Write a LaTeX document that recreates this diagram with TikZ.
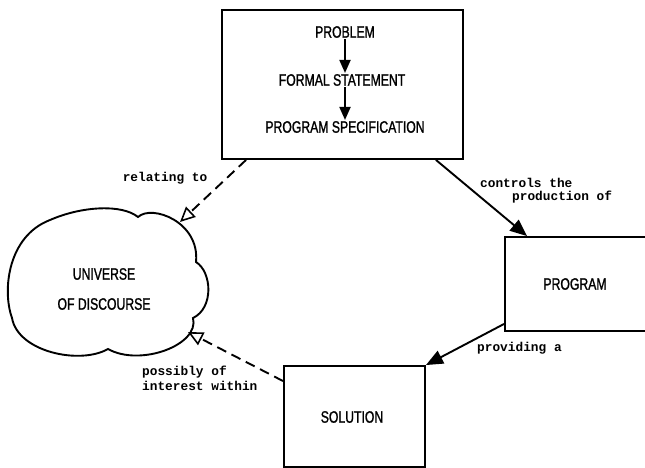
\documentclass[tikz,border=0pt]{standalone}
\usepackage{fontspec}
\usetikzlibrary{arrows.meta,calc}
\newfontfamily\condfont[FakeStretch=0.74,FakeBold=1.2]{Liberation Sans}
\newfontfamily\monofont{Liberation Mono}
\begin{document}
\begin{tikzpicture}[x=1pt,y=-1pt,
  boxstyle/.style={draw,line width=1.9pt,inner sep=0pt},
  captxt/.style={font=\condfont\fontsize{16.5}{30}\selectfont,inner sep=1pt},
  lbl/.style={font=\monofont\bfseries\fontsize{12.8}{14}\selectfont,inner sep=0pt},
  solidarrow/.style={line width=1.9pt,-{Triangle[length=17pt,width=14pt]}},
  smallarrow/.style={line width=1.9pt,-{Triangle[length=13pt,width=11pt]}},
  dasharrow/.style={line width=1.9pt,dash pattern=on 10pt off 6pt,-{Triangle[open,length=15pt,width=14pt,line width=1.6pt]}}]
\useasboundingbox (0,0) rectangle (645,468);
\clip (0,0) rectangle (645,468);
% boxes
\node[boxstyle,minimum width=241pt,minimum height=149pt] (spec) at (342.5,84.5) {};
\node[boxstyle,minimum width=145pt,minimum height=94pt] (program) at (577.5,284) {};
\node[captxt] (programtxt) at (575,284) {PROGRAM};
\node[boxstyle,minimum width=141pt,minimum height=101pt] (solution) at (354.5,416.5) {};
\node[captxt] (solutiontxt) at (352,417) {SOLUTION};
% inside top box
\node[captxt] (p1) at (345,32) {PROBLEM};
\node[captxt] (p2) at (342,80) {FORMAL STATEMENT};
\node[captxt] (p3) at (345,127) {PROGRAM SPECIFICATION};
\draw[smallarrow] (p1.south) -- (p1.south |- p2.north);
\draw[smallarrow] (p1.south |- p2.south) -- (p1.south |- p3.north);
% cloud
\draw[line width=1.9pt] (138,217)
  .. controls (152,204) and (200,222) .. (196,262)
  .. controls (212,272) and (214,308) .. (193,318)
  .. controls (200,345) and (140,367) .. (108,349)
  .. controls (80,365) and (18,352) .. (12,318)
  .. controls (2,290) and (8,236) .. (50,220)
  .. controls (82,206) and (122,204) .. cycle;
\node[captxt,align=center] (uod) at (104,289) {UNIVERSE\\OF DISCOURSE};
\coordinate (cloudtop) at (180,222);
\coordinate (cloudbot) at (188,332);
% connectors
\draw[dasharrow] ($(spec.south west)+(25,0)$) -- (cloudtop);
\draw[solidarrow] ($(spec.south east)+(-28,0)$) -- ($(program.north west)+(23,0)$);
\draw[solidarrow] ($(program.south west)+(0,-8)$) -- (solution.north east);
\draw[dasharrow] ($(solution.north west)+(0,16)$) -- (cloudbot);
% labels
\node[lbl] (l1) at (165,178) {relating to};
\node[lbl,anchor=west] (l2a) at (480,183) {controls the};
\node[lbl,anchor=west] (l2b) at (512,197) {production of};
\node[lbl,anchor=west] (l3) at (477,348) {providing a};
\node[lbl,anchor=west] (l4a) at (142,372) {possibly of};
\node[lbl,anchor=west] (l4b) at (142,386) {interest within};
\end{tikzpicture}
\end{document}
